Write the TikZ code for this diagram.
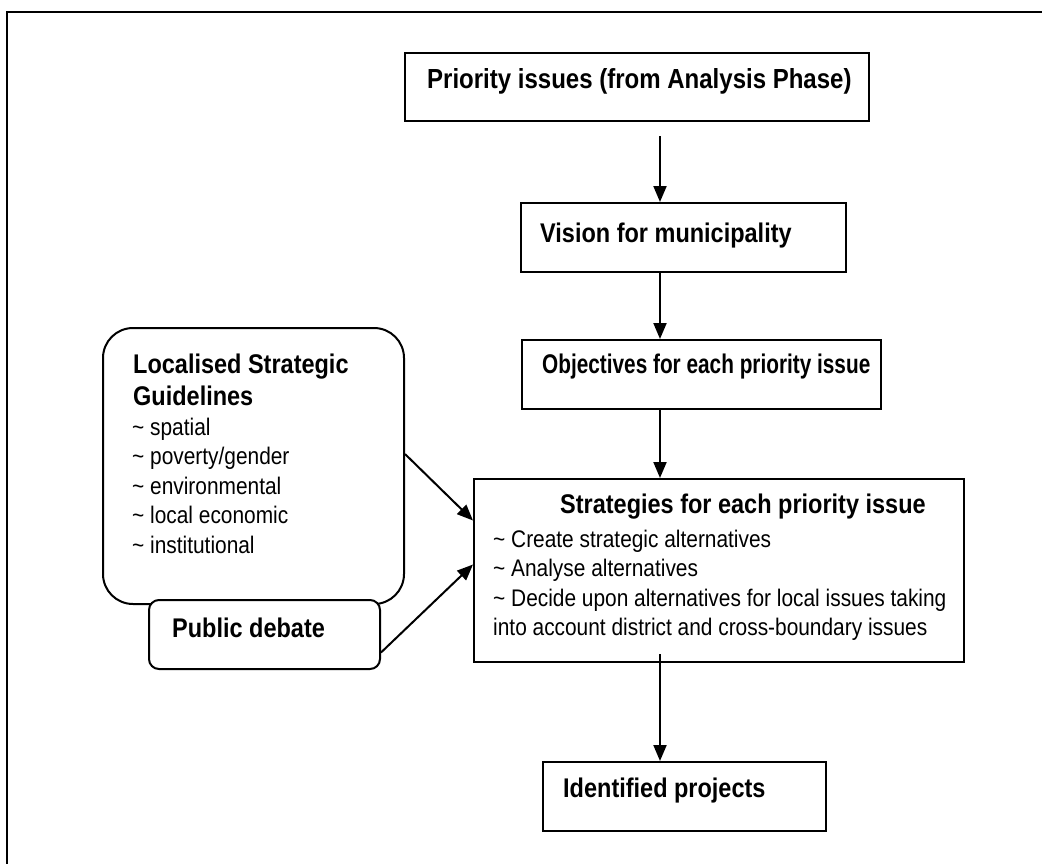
\documentclass[tikz,border=0pt]{standalone}
\usepackage{fontspec}
\usepackage{graphicx}
\setmainfont[FakeStretch=0.87]{Liberation Sans}
\usetikzlibrary{arrows.meta,calc}

\tikzset{
  box/.style={draw=black, line width=2pt, fill=white, inner sep=0pt, anchor=north west},
  rbox/.style={box, rounded corners=#1},
  titletext/.style={inner sep=0pt, font=\fontsize{#1}{32}\selectfont\bfseries},
  titletext/.default=27,
  bodytext/.style={inner sep=0pt, font=\fontsize{24}{29.5}\selectfont},
  flow/.style={line width=2pt, -{Triangle[length=16pt,width=13pt]}}
}

\begin{document}
\begin{tikzpicture}[x=1pt,y=-1pt]
  \useasboundingbox (0,0) rectangle (1042,863);

  % outer frame (only its top and left sides fall inside the page)
  \draw[line width=2pt] (7,880) -- (7,12) -- (1060,12);

  % main column of boxes
  \node[box, minimum width=464pt, minimum height=68pt] (prio) at (404,52) {};
  \node[box, minimum width=325pt, minimum height=69pt] (vision) at (520,202) {};
  \node[box, minimum width=359pt, minimum height=69pt] (obj) at (521,339) {};
  \node[box, minimum width=490pt, minimum height=183pt] (strat) at (473,478) {};
  \node[box, minimum width=283pt, minimum height=69pt] (ident) at (542,761) {};

  % side inputs
  \node[rbox=30pt, minimum width=301pt, minimum height=276pt] (lsg) at (102,327) {};
  \node[rbox=10pt, minimum width=231pt, minimum height=69pt] (pub) at (148,599) {};

  % box texts
  \node[titletext=27.6, anchor=base west] (prio-t) at (427,88) {Priority issues (from Analysis Phase)};
  \node[titletext, anchor=base west] (vision-t) at (540,242) {Vision for municipality};
  \node[titletext, anchor=base west] (obj-t) at (542,373)
    {\scalebox{0.885}[1]{Objectives for each priority issue}};
  \node[titletext, anchor=base west] (strat-t) at (560,513) {Strategies for each priority issue};
  \node[bodytext, anchor=north west, align=left] (strat-l) at (493,529.5)
    {\textasciitilde{} Create strategic alternatives\\
     \textasciitilde{} Analyse alternatives\\
     \textasciitilde{} Decide upon alternatives for local issues taking\\
     into account district and cross-boundary issues};
  \node[titletext, anchor=base west] (ident-t) at (563,797) {Identified projects};

  \node[titletext, anchor=north west, align=left] (lsg-t) at (133,353.5)
    {Localised Strategic\\Guidelines};
  \node[bodytext, anchor=north west, align=left] (lsg-l) at (132,417.5)
    {\textasciitilde{} spatial\\
     \textasciitilde{} poverty/gender\\
     \textasciitilde{} environmental\\
     \textasciitilde{} local economic\\
     \textasciitilde{} institutional};
  \node[titletext, anchor=base west] (pub-t) at (172,637) {Public debate};

  % connectors
  \coordinate (ax) at (660,0);
  \draw[flow] ([yshift=-14pt]prio.south -| ax) -- (vision.north -| ax);
  \draw[flow] (vision.south -| ax) -- (obj.north -| ax);
  \draw[flow] (obj.south -| ax) -- (strat.north -| ax);
  \draw[flow] ([yshift=9pt]strat.south -| ax) -- (ident.north -| ax);
  \draw[flow] ([yshift=12pt]lsg.east) -- ([yshift=50pt]strat.west);
  \draw[flow] ([yshift=-18pt]pub.east) -- ([yshift=6pt]strat.west);
\end{tikzpicture}
\end{document}
